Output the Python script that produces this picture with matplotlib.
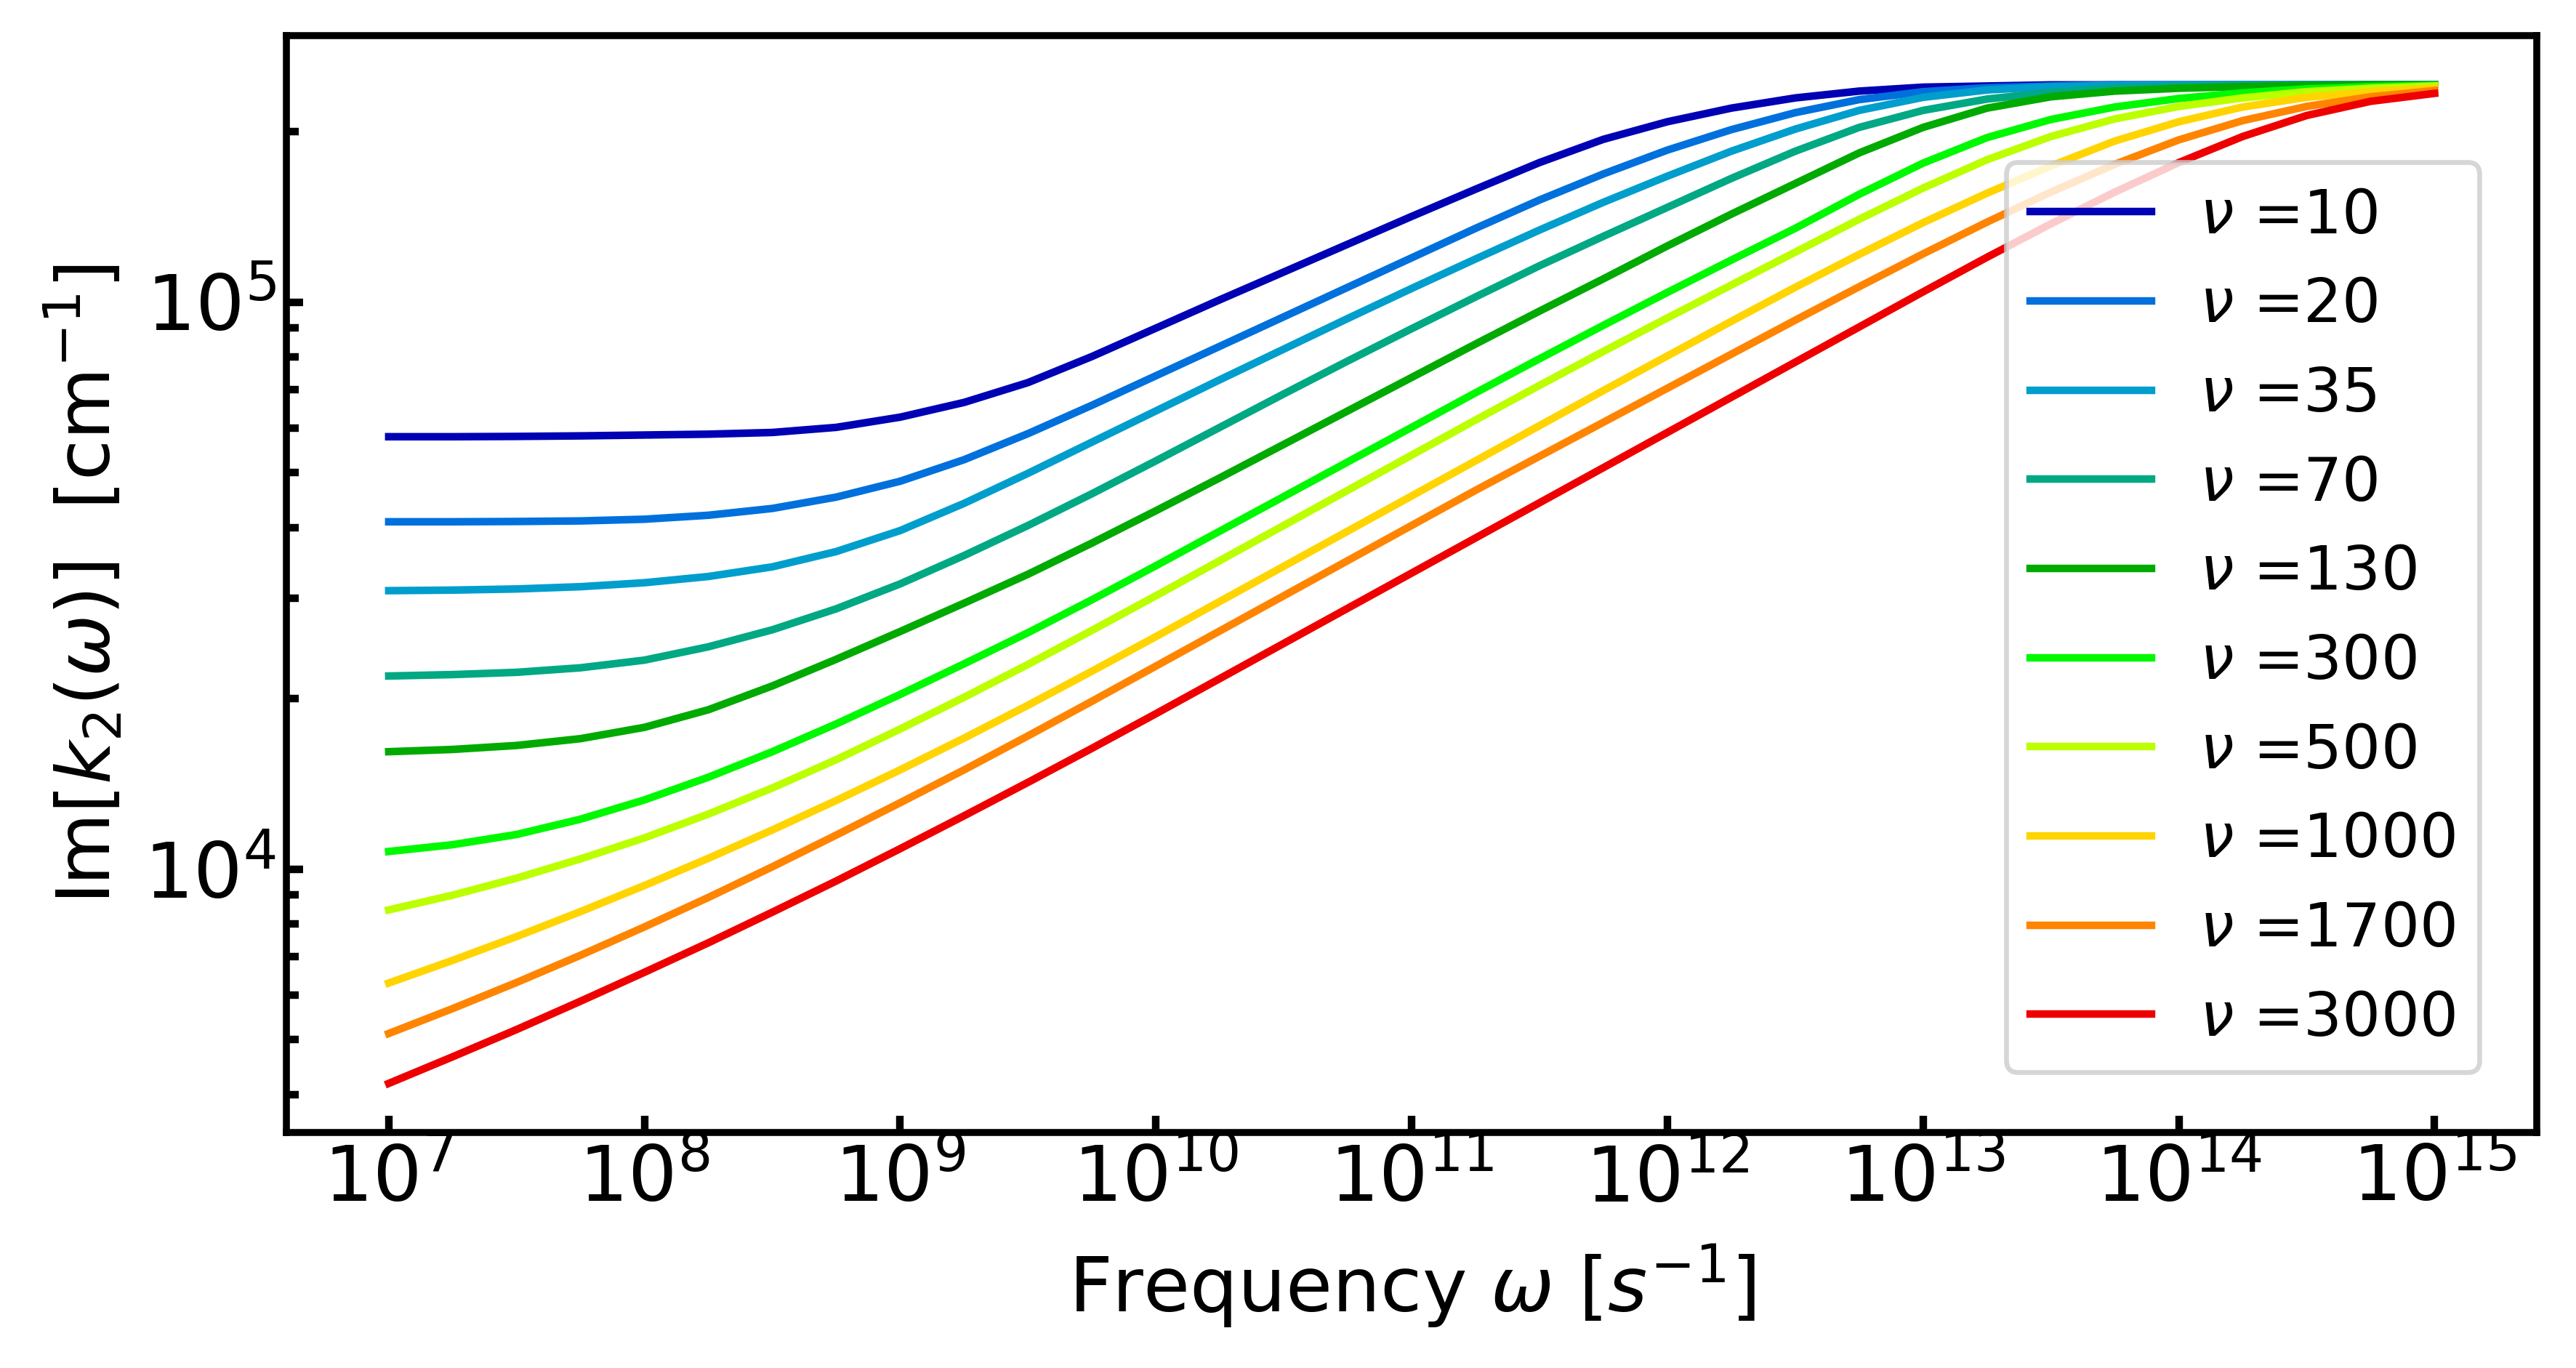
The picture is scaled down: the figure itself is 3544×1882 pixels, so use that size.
"""Imaginary part of k2 versus frequency for several values of nu."""

import numpy as np
import matplotlib
matplotlib.use("Agg")
import matplotlib.pyplot as plt
from matplotlib.ticker import NullLocator

# Log10(omega) in quarter decades
log_omega = [7.0, 7.25, 7.5, 7.75, 8.0, 8.25, 8.5, 8.75, 9.0, 9.25, 9.5,
             9.75, 10.0, 10.25, 10.5, 10.75, 11.0, 11.25, 11.5, 11.75, 12.0,
             12.25, 12.5, 12.75, 13.0, 13.25, 13.5, 13.75, 14.0, 14.25, 14.5,
             14.75, 15.0]

nu_values = [10, 20, 35, 70, 130, 300, 500, 1000, 1700, 3000]

# log10(Im[k2]) for each nu, same positions as log_omega
log_k2_nu10 = [4.7625, 4.7625, 4.763, 4.764, 4.7655, 4.767, 4.770, 4.779,
               4.797, 4.823, 4.858, 4.904, 4.954, 5.004, 5.053, 5.102, 5.151,
               5.199, 5.246, 5.287, 5.318, 5.342, 5.360, 5.372, 5.379, 5.381,
               5.383, 5.383, 5.383, 5.383, 5.383, 5.383, 5.383]
log_k2_nu20 = [4.6125, 4.6125, 4.613, 4.614, 4.617, 4.624, 4.636, 4.656,
               4.684, 4.722, 4.768, 4.818, 4.870, 4.922, 4.974, 5.026, 5.078,
               5.130, 5.180, 5.226, 5.268, 5.304, 5.334, 5.357, 5.371, 5.378,
               5.381, 5.383, 5.383, 5.383, 5.383, 5.383, 5.383]
log_k2_nu35 = [4.491, 4.492, 4.494, 4.498, 4.505, 4.516, 4.533, 4.560,
               4.597, 4.645, 4.698, 4.753, 4.808, 4.863, 4.917, 4.971, 5.024,
               5.076, 5.127, 5.176, 5.222, 5.266, 5.305, 5.338, 5.361, 5.374,
               5.380, 5.382, 5.383, 5.383, 5.383, 5.383, 5.383]
log_k2_nu70 = [4.3405, 4.343, 4.347, 4.355, 4.3685, 4.392, 4.422, 4.459,
               4.503, 4.553, 4.606, 4.662, 4.720, 4.779, 4.838, 4.896, 4.953,
               5.009, 5.064, 5.116, 5.167, 5.218, 5.266, 5.308, 5.338, 5.358,
               5.370, 5.377, 5.380, 5.382, 5.383, 5.383, 5.383]
log_k2_nu130 = [4.207, 4.211, 4.218, 4.230, 4.250, 4.281, 4.323, 4.370,
                4.419, 4.469, 4.520, 4.575, 4.632, 4.690, 4.749, 4.808, 4.867,
                4.926, 4.984, 5.041, 5.099, 5.155, 5.209, 5.263, 5.308, 5.342,
                5.362, 5.372, 5.377, 5.380, 5.382, 5.383, 5.383]
log_k2_nu300 = [4.031, 4.043, 4.061, 4.088, 4.122, 4.162, 4.207, 4.256,
                4.308, 4.362, 4.417, 4.475, 4.535, 4.596, 4.657, 4.718, 4.779,
                4.840, 4.900, 4.959, 5.017, 5.074, 5.130, 5.190, 5.245, 5.290,
                5.322, 5.344, 5.359, 5.369, 5.376, 5.380, 5.382]
log_k2_nu500 = [3.928, 3.954, 3.984, 4.018, 4.055, 4.097, 4.143, 4.193,
                4.247, 4.303, 4.361, 4.421, 4.482, 4.544, 4.606, 4.668, 4.730,
                4.792, 4.853, 4.913, 4.972, 5.030, 5.088, 5.146, 5.201, 5.251,
                5.292, 5.323, 5.345, 5.360, 5.371, 5.377, 5.381]
log_k2_nu1000 = [3.799, 3.839, 3.881, 3.925, 3.971, 4.019, 4.069, 4.121,
                 4.175, 4.231, 4.289, 4.349, 4.410, 4.472, 4.534, 4.596, 4.658,
                 4.720, 4.782, 4.844, 4.905, 4.966, 5.026, 5.084, 5.140, 5.192,
                 5.240, 5.284, 5.318, 5.344, 5.361, 5.371, 5.377]
log_k2_nu1700 = [3.710, 3.754, 3.800, 3.848, 3.898, 3.950, 4.004, 4.060,
                 4.117, 4.175, 4.235, 4.296, 4.358, 4.420, 4.482, 4.544, 4.606,
                 4.668, 4.728, 4.788, 4.848, 4.908, 4.968, 5.027, 5.085, 5.141,
                 5.194, 5.243, 5.286, 5.320, 5.345, 5.362, 5.373]
log_k2_nu3000 = [3.622, 3.669, 3.717, 3.767, 3.818, 3.870, 3.924, 3.979,
                 4.036, 4.094, 4.153, 4.213, 4.274, 4.336, 4.398, 4.460, 4.522,
                 4.584, 4.646, 4.708, 4.770, 4.832, 4.894, 4.956, 5.018, 5.079,
                 5.138, 5.194, 5.246, 5.292, 5.329, 5.354, 5.368]

curves = [log_k2_nu10, log_k2_nu20, log_k2_nu35, log_k2_nu70, log_k2_nu130,
          log_k2_nu300, log_k2_nu500, log_k2_nu1000, log_k2_nu1700,
          log_k2_nu3000]

colors = ["#0000B4", "#0070DC", "#009ECC", "#00A884", "#00AA00",
          "#00F800", "#BBFF00", "#FFD400", "#FF8400", "#EE0000"]


def plot_im_k2(output_path="out.png"):
    """Plot Im[k2(omega)] on log-log axes, one line per nu."""
    fig = plt.figure(figsize=(3544 / 300, 1882 / 300), dpi=300)
    ax = fig.add_axes([0.1112, 0.1722, 0.8736, 0.8015])

    omega = np.power(10.0, log_omega)
    for nu, logs, col in zip(nu_values, curves, colors):
        ax.plot(omega, np.power(10.0, logs), color=col, linewidth=2.5,
                label=r"$\nu$ =" + str(nu))

    ax.set_xscale("log")
    ax.set_yscale("log")
    ax.set_ylim(3432, 2.946e5)
    ax.xaxis.set_minor_locator(NullLocator())

    ax.set_xlabel(r"Frequency $\omega$ [$s^{-1}$]", fontsize=25, labelpad=8)
    ax.set_ylabel(r"Im[$k_2(\omega)$]  [cm$^{-1}$]", fontsize=24.5,
                  labelpad=6)

    ax.tick_params(which="both", direction="in", width=2.5, labelsize=25.5)
    ax.tick_params(which="major", length=5.5)
    ax.tick_params(which="minor", length=4)
    for spine in ax.spines.values():
        spine.set_linewidth(2.3)

    leg = ax.legend(loc="lower right", bbox_to_anchor=(0.9745, 0.055),
                    borderaxespad=0, fontsize=20)
    leg.get_frame().set_linewidth(1.6)

    fig.savefig(output_path, dpi=300)
    plt.close(fig)


plot_im_k2()
